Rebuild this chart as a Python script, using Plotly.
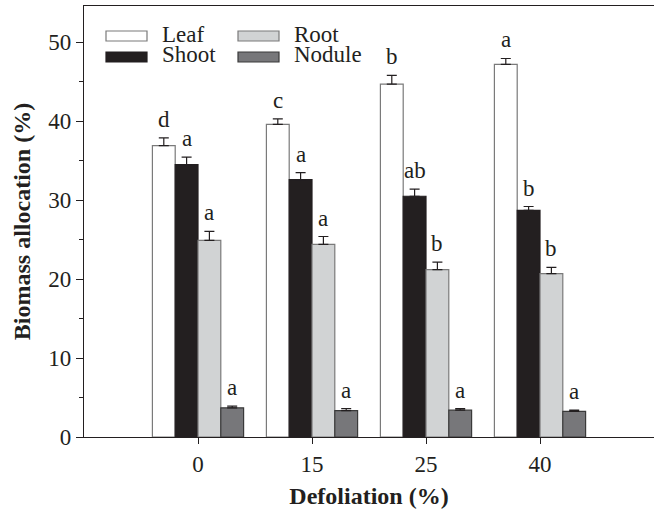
import plotly.graph_objects as go

# Defoliation treatments (%)
categories = ["0", "15", "25", "40"]
series_names = ["Leaf", "Shoot", "Root", "Nodule"]

# Biomass allocation means (%) and standard errors
leaf = [36.9, 39.6, 44.7, 47.2]
shoot = [34.5, 32.6, 30.5, 28.7]
root = [24.9, 24.4, 21.2, 20.7]
nodule = [3.7, 3.35, 3.4, 3.25]

leaf_se = [1.0, 0.7, 1.1, 0.75]
shoot_se = [0.95, 0.9, 0.9, 0.5]
root_se = [1.15, 1.0, 0.95, 0.8]
nodule_se = [0.2, 0.25, 0.2, 0.15]

# Significance letters
leaf_sig = ["d", "c", "b", "a"]
shoot_sig = ["a", "a", "ab", "b"]
root_sig = ["a", "a", "b", "b"]
nodule_sig = ["a", "a", "a", "a"]

values = [leaf, shoot, root, nodule]
errors = [leaf_se, shoot_se, root_se, nodule_se]
letters = [leaf_sig, shoot_sig, root_sig, nodule_sig]

fills = ["#ffffff", "#231f20", "#d1d3d4", "#77777a"]
edges = ["#7a7a7a", "#231f20", "#7a7a7a", "#3a3a3a"]

FONT = "Liberation Serif"
FS = 23
TITLE_FS = 24
positions = list(range(1, len(categories) + 1))
bar_w = 0.2
offsets = [-1.5 * bar_w, -0.5 * bar_w, 0.5 * bar_w, 1.5 * bar_w]

fig = go.Figure()
for name, vals, errs, fc, ec in zip(series_names, values, errors, fills, edges):
    fig.add_trace(go.Bar(
        x=positions, y=vals, name=name,
        marker=dict(color=fc, line=dict(color=ec, width=1.2)),
        error_y=dict(type="data", symmetric=False, array=errs,
                     arrayminus=[0] * len(errs), color="#231f20",
                     thickness=1.2, width=5),
        showlegend=False,
    ))

annotations = []
for k, (vals, errs, labs) in enumerate(zip(values, errors, letters)):
    for i, (v, e, t) in enumerate(zip(vals, errs, labs)):
        annotations.append(dict(
            x=positions[i] + offsets[k], y=v + e, xref="x", yref="y",
            text=t, showarrow=False, yanchor="bottom", yshift=4,
            font=dict(family=FONT, size=FS, color="#231f20"),
        ))

# Legend drawn as wide swatches in two columns
L, R, T, B = 84, 654, 6, 437
W, H = R - L, B - T


def px(x):
    return (x - L) / W


def py(y):
    return (B - y) / H


shapes = []
legend_spots = [(106, 36), (106, 57), (238, 36), (238, 57)]
for name, fc, ec, (sx, sy) in zip(series_names, fills, edges, legend_spots):
    shapes.append(dict(type="rect", xref="paper", yref="paper",
                       x0=px(sx), x1=px(sx + 41), y0=py(sy + 5), y1=py(sy - 5),
                       fillcolor=fc, line=dict(color=ec, width=1.2)))
    annotations.append(dict(x=px(sx + 55), y=py(sy - 2), xref="paper", yref="paper",
                            text=name, showarrow=False, xanchor="left",
                            yanchor="middle", borderpad=0,
                            font=dict(family=FONT, size=FS, color="#231f20")))

fig.update_layout(
    width=654, height=509,
    margin=dict(l=L, r=654 - R, t=T, b=509 - B),
    paper_bgcolor="white", plot_bgcolor="white",
    barmode="group", bargap=0.2, bargroupgap=0,
    font=dict(family=FONT, size=FS, color="#231f20"),
    annotations=annotations, shapes=shapes,
    xaxis=dict(
        range=[0, 5], tickvals=positions, ticktext=categories,
        showline=True, linecolor="#231f20", linewidth=1.2, mirror=True,
        ticks="outside", ticklen=6, tickcolor="#231f20", tickwidth=1.2,
        showgrid=False, zeroline=False,
        tickfont=dict(family=FONT, size=FS),
        title=dict(text="<b>Defoliation (%)</b>", standoff=12,
                   font=dict(family=FONT, size=TITLE_FS)),
    ),
    yaxis=dict(
        range=[0, 54.6], tickvals=[0, 10, 20, 30, 40, 50],
        showline=True, linecolor="#231f20", linewidth=1.2,
        ticks="outside", ticklen=7, tickcolor="#231f20", tickwidth=1.2,
        minor=dict(tickvals=[5, 15, 25, 35, 45], ticks="outside", ticklen=4,
                   tickcolor="#231f20", tickwidth=1.2),
        showgrid=False, zeroline=False,
        tickfont=dict(family=FONT, size=FS),
        title=dict(text="<b>Biomass allocation (%)</b>", standoff=10,
                   font=dict(family=FONT, size=TITLE_FS)),
    ),
)

fig.write_html("out.html")
